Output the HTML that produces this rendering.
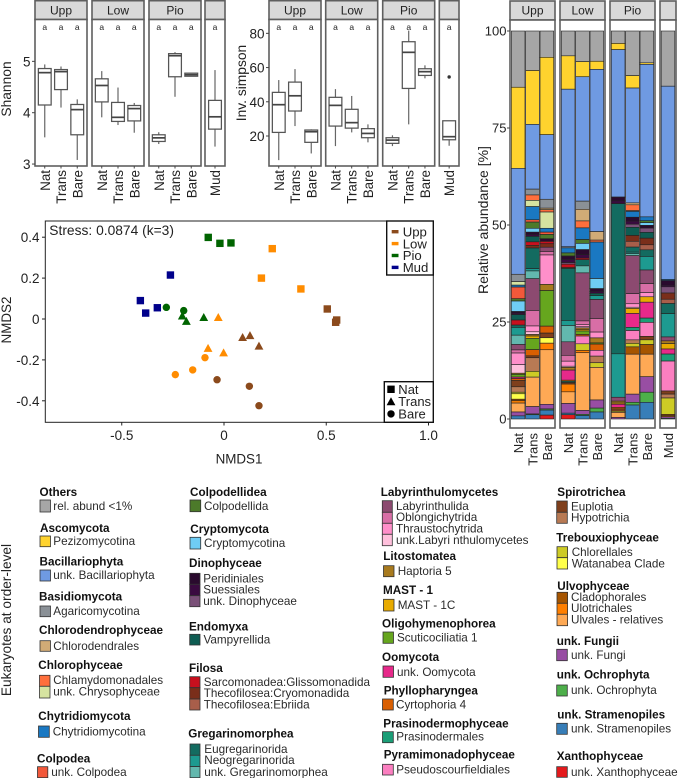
<!DOCTYPE html>
<html lang="en">
<head>
<meta charset="utf-8">
<title>Eukaryote diversity, NMDS and relative abundance</title>
<style>
html,body{margin:0;padding:0;background:#fff;}
svg{display:block;font-family:"Liberation Sans",Arial,sans-serif;}
.h{font-size:11.7px;font-weight:bold;fill:#111;}
.t{font-size:11.7px;fill:#2b2b2b;}
.s{stroke:#333;stroke-width:.8;}
</style>
</head>
<body>
<svg id="figure" xmlns="http://www.w3.org/2000/svg" width="678" height="778" viewBox="0 0 678 778">
<rect width="678" height="778" fill="#fff"/>
<g id="shannon-chart"></g>
<g id="simpson-chart"></g>
<g id="nmds-chart"></g>
<g id="bar-chart"></g>

<g>
<text x="0" y="0" transform="translate(11,620) rotate(-90)" text-anchor="middle" font-size="13.7" fill="#222">Eukaryotes at order-level</text>

<g><text class="h" x="39.5" y="496">Others</text>
<rect class="s" x="40" y="500" width="10.5" height="12" fill="#a6a6a6"/><text class="t" x="53.3" y="510">rel. abund &lt;1%</text></g>

<g><text class="h" x="40" y="532">Ascomycota</text>
<rect class="s" x="40" y="536" width="10.5" height="10.7" fill="#ffd32e"/><text class="t" x="53.3" y="545">Pezizomycotina</text></g>

<g><text class="h" x="39.5" y="565.5">Bacillariophyta</text>
<rect class="s" x="40" y="570" width="10.5" height="11" fill="#6f9ae2"/><text class="t" x="53.3" y="579">unk. Bacillariophyta</text></g>

<g><text class="h" x="39" y="600.5">Basidiomycota</text>
<rect class="s" x="40" y="606" width="10.5" height="10.7" fill="#8a9096"/><text class="t" x="53.3" y="615">Agaricomycotina</text></g>

<g><text class="h" x="39" y="634">Chlorodendrophyceae</text>
<rect class="s" x="40" y="640.7" width="10.5" height="10.6" fill="#d1ab76"/><text class="t" x="53.3" y="650">Chlorodendrales</text></g>

<g><text class="h" x="38.3" y="669">Chlorophyceae</text>
<rect class="s" x="39.5" y="675.3" width="10.5" height="11" fill="#ff6f3c"/><text class="t" x="53.3" y="684">Chlamydomonadales</text>
<rect class="s" x="39.5" y="686.3" width="10.5" height="11.7" fill="#d6e3a0"/><text class="t" x="53.3" y="695.7">unk. Chrysophyceae</text></g>

<g><text class="h" x="38.3" y="720">Chytridiomycota</text>
<rect class="s" x="38.5" y="726" width="10.8" height="11.3" fill="#1a78c2"/><text class="t" x="52.7" y="735.3">Chytridiomycotina</text></g>

<g><text class="h" x="37" y="762.5">Colpodea</text>
<rect class="s" x="37.5" y="766.7" width="10.3" height="11" fill="#f2583a"/><text class="t" x="51.3" y="776">unk. Colpodea</text></g>

<g><text class="h" x="190" y="496">Colpodellidea</text>
<rect class="s" x="190" y="500" width="10.7" height="11.7" fill="#4c7a2a"/><text class="t" x="204" y="510">Colpodellida</text></g>

<g><text class="h" x="190.3" y="533">Cryptomycota</text>
<rect class="s" x="190" y="537.3" width="10.7" height="11.7" fill="#6fcdf5"/><text class="t" x="204" y="547">Cryptomycotina</text></g>

<g><text class="h" x="189" y="567">Dinophyceae</text>
<rect class="s" x="189.7" y="573.3" width="10.3" height="11" fill="#2a0a2e"/><text class="t" x="203.3" y="582.5">Peridiniales</text>
<rect class="s" x="189.7" y="584.3" width="10.3" height="11.4" fill="#3a0a40"/><text class="t" x="203.3" y="593.5">Suessiales</text>
<rect class="s" x="189.7" y="595.7" width="10.3" height="11" fill="#7a5078"/><text class="t" x="203.3" y="605">unk. Dinophyceae</text></g>

<g><text class="h" x="189" y="630.5">Endomyxa</text>
<rect class="s" x="189.7" y="634.3" width="10.3" height="10.7" fill="#0e5c52"/><text class="t" x="203.5" y="643.5">Vampyrellida</text></g>

<g><text class="h" x="189" y="672">Filosa</text>
<rect class="s" x="189.7" y="676.7" width="10.3" height="11" fill="#c8101e"/><text class="t" x="203.7" y="686">Sarcomonadea:Glissomonadida</text>
<rect class="s" x="189.7" y="687.7" width="10.3" height="11.3" fill="#7a2e1a"/><text class="t" x="203.7" y="697">Thecofilosea:Cryomonadida</text>
<rect class="s" x="189.7" y="699" width="10.3" height="11" fill="#a85e4a"/><text class="t" x="203.7" y="708.5">Thecofilosea:Ebriida</text></g>

<g><text class="h" x="188.3" y="737.5">Gregarinomorphea</text>
<rect class="s" x="190" y="744" width="10" height="11.3" fill="#136b60"/><text class="t" x="204.3" y="753">Eugregarinorida</text>
<rect class="s" x="190" y="755.3" width="10" height="11.3" fill="#1d9a90"/><text class="t" x="204.3" y="764">Neogregarinorida</text>
<rect class="s" x="190" y="766.6" width="10" height="11.1" fill="#62b8ae"/><text class="t" x="204.3" y="776">unk. Gregarinomorphea</text></g>

<g><text class="h" x="380.7" y="496">Labyrinthulomycetes</text>
<rect class="s" x="382.3" y="500.7" width="10" height="11.6" fill="#8c4a70"/><text class="t" x="396" y="510">Labyrinthulida</text>
<rect class="s" x="382.3" y="512.3" width="10" height="11" fill="#d86ea6"/><text class="t" x="396" y="521">Oblongichytrida</text>
<rect class="s" x="382.3" y="523.3" width="10" height="11" fill="#ff8fca"/><text class="t" x="396" y="532.3">Thraustochytrida</text>
<rect class="s" x="382.3" y="534.3" width="10" height="11.4" fill="#ffc0dc"/><text class="t" x="396" y="544">unk.Labyri nthulomycetes</text></g>

<g><text class="h" x="383.3" y="560">Litostomatea</text>
<rect class="s" x="383.5" y="565.7" width="10.5" height="11" fill="#a87a1e"/><text class="t" x="397.7" y="575">Haptoria 5</text></g>

<g><text class="h" x="383" y="594">MAST - 1</text>
<rect class="s" x="383.5" y="599.3" width="10.5" height="11.7" fill="#e8ab00"/><text class="t" x="397.7" y="609">MAST - 1C</text></g>

<g><text class="h" x="382" y="627.5">Oligohymenophorea</text>
<rect class="s" x="383" y="632" width="10.5" height="11.3" fill="#66a61e"/><text class="t" x="397" y="641.5">Scuticociliatia 1</text></g>

<g><text class="h" x="382" y="661">Oomycota</text>
<rect class="s" x="383" y="666" width="10.5" height="11.3" fill="#e7298a"/><text class="t" x="397" y="676">unk. Oomycota</text></g>

<g><text class="h" x="383.7" y="694.5">Phyllopharyngea</text>
<rect class="s" x="382.5" y="699" width="10.8" height="11" fill="#d95f02"/><text class="t" x="396" y="708.5">Cyrtophoria 4</text></g>

<g><text class="h" x="383.3" y="727.5">Prasinodermophyceae</text>
<rect class="s" x="382.5" y="731.7" width="10.8" height="11" fill="#1b9e77"/><text class="t" x="396.3" y="740.5">Prasinodermales</text></g>

<g><text class="h" x="383.7" y="758.5">Pyramimonadophyceae</text>
<rect class="s" x="382.5" y="764.3" width="10.8" height="10.7" fill="#fb7fc0"/><text class="t" x="396.3" y="773.5">Pseudoscourfieldiales</text></g>

<g><text class="h" x="557.3" y="496">Spirotrichea</text>
<rect class="s" x="556.7" y="501" width="10.6" height="11.3" fill="#7f3f1c"/><text class="t" x="571" y="510.3">Euplotia</text>
<rect class="s" x="556.7" y="512.3" width="10.6" height="11" fill="#b87a54"/><text class="t" x="571" y="521.3">Hypotrichia</text></g>

<g><text class="h" x="556.3" y="541.5">Trebouxiophyceae</text>
<rect class="s" x="557" y="546.7" width="10.6" height="11" fill="#cdcb25"/><text class="t" x="571.7" y="556">Chlorellales</text>
<rect class="s" x="557" y="557.7" width="10.6" height="11.3" fill="#ffff4a"/><text class="t" x="571.7" y="567.3">Watanabea Clade</text></g>

<g><text class="h" x="557.3" y="590">Ulvophyceae</text>
<rect class="s" x="557" y="592.3" width="10.6" height="11" fill="#a65500"/><text class="t" x="571" y="601">Cladophorales</text>
<rect class="s" x="557" y="603.3" width="10.6" height="11" fill="#ff7f00"/><text class="t" x="571" y="612">Ulotrichales</text>
<rect class="s" x="557" y="614.3" width="10.6" height="11.4" fill="#fea955"/><text class="t" x="571" y="623.3">Ulvales - relatives</text></g>

<g><text class="h" x="556.7" y="645">unk. Fungii</text>
<rect class="s" x="556.7" y="649.3" width="10.6" height="11.4" fill="#984ea3"/><text class="t" x="571" y="659">unk. Fungi</text></g>

<g><text class="h" x="556.7" y="678.5">unk. Ochrophyta</text>
<rect class="s" x="556.7" y="685" width="10.6" height="11" fill="#4daf4a"/><text class="t" x="571" y="694">unk. Ochrophyta</text></g>

<g><text class="h" x="557.3" y="718.5">unk. Stramenopiles</text>
<rect class="s" x="556.7" y="723.3" width="10.6" height="11" fill="#377eb8"/><text class="t" x="571" y="732.3">unk. Stramenopiles</text></g>

<g><text class="h" x="556.7" y="760">Xanthophyceae</text>
<rect class="s" x="556.7" y="766.7" width="10.6" height="10.6" fill="#e41a1c"/><text class="t" x="571" y="776">unk. Xanthophyceae</text></g>
</g>
</svg>

<script>
// ---------- shared categories ----------
const facetLabels = ['Upp', 'Low', 'Pio', ''];
const facetCategories = [['Nat', 'Trans', 'Bare'], ['Nat', 'Trans', 'Bare'], ['Nat', 'Trans', 'Bare'], ['Mud']];
const significanceLetters = ['a', 'a', 'a', 'a', 'a', 'a', 'a', 'a', 'a', 'a'];

// ---------- Shannon box statistics (Upp N/T/B, Low N/T/B, Pio N/T/B, Mud) ----------
const shannonTicks = [3, 4, 5];
const shannonHigh   = [4.94, 4.90, 4.26, 4.81, 4.49, 4.19, 3.62, 5.18, 4.77, 4.83];
const shannonQ3     = [4.86, 4.84, 4.16, 4.66, 4.20, 4.14, 3.57, 5.15, 4.77, 4.24];
const shannonMedian = [4.78, 4.80, 4.06, 4.53, 3.91, 4.08, 3.51, 5.11, 4.74, 3.92];
const shannonQ1     = [4.15, 4.45, 3.57, 4.21, 3.83, 3.84, 3.44, 4.70, 4.71, 3.68];
const shannonLow    = [3.52, 4.10, 3.08, 3.91, 3.76, 3.61, 3.39, 4.31, 4.71, 3.34];

// ---------- Inverse Simpson box statistics ----------
const simpsonTicks = [20, 40, 60, 80];
const simpsonHigh   = [52.7, 59.1, 23.9, 47.4, 43.4, 26.8, 20.4, 81.6, 61.3, 28.9];
const simpsonQ3     = [45.5, 51.5, 23.5, 42.6, 35.6, 24.3, 19.0, 75.1, 59.3, 28.9];
const simpsonMedian = [38.3, 43.5, 22.5, 37.9, 27.8, 21.5, 17.6, 68.9, 57.6, 19.6];
const simpsonQ1     = [22.1, 34.6, 16.3, 25.8, 24.6, 19.0, 15.7, 47.8, 55.4, 17.8];
const simpsonLow    = [5.9, 25.8, 9.8, 14.1, 22.1, 16.3, 14.1, 26.8, 53.7, 14.3];
const simpsonOutliers = [null, null, null, null, null, null, null, null, null, 54.5];

// ---------- NMDS ordination ----------
const nmdsXTicks = [-0.5, 0, 0.5, 1.0];
const nmdsYTicks = [-0.4, -0.2, 0, 0.2, 0.4];
const nmdsX = [0.505, 0.551, 0.546, 0.236, 0.183, 0.376, -0.077, -0.020, 0.034, -0.262, -0.409, -0.383, -0.326,
               0.091, 0.127, 0.171, -0.028, -0.078, -0.002, -0.204, -0.184, -0.099,
               -0.034, 0.124, 0.171, -0.093, -0.153, -0.238, -0.282, -0.197];
const nmdsY = [0.049, -0.005, -0.016, 0.344, 0.200, 0.147, 0.399, 0.370, 0.372, 0.215, 0.090, 0.029, 0.055,
               -0.090, -0.081, -0.132, 0.008, -0.143, -0.165, 0.015, -0.011, 0.008,
               -0.297, -0.329, -0.424, -0.189, -0.249, -0.272, 0.057, 0.041];
const nmdsSite = ['Upp','Upp','Upp','Low','Low','Low','Pio','Pio','Pio','Mud','Mud','Mud','Mud',
                  'Upp','Upp','Upp','Low','Low','Low','Pio','Pio','Pio',
                  'Upp','Upp','Upp','Low','Low','Low','Pio','Pio'];
const nmdsTreatment = ['Nat','Nat','Nat','Nat','Nat','Nat','Nat','Nat','Nat','Nat','Nat','Nat','Nat',
                       'Trans','Trans','Trans','Trans','Trans','Trans','Trans','Trans','Trans',
                       'Bare','Bare','Bare','Bare','Bare','Bare','Bare','Bare'];
const siteLegend = ['Upp', 'Low', 'Pio', 'Mud'];
const treatmentLegend = ['Nat', 'Trans', 'Bare'];
const siteColors = {Upp: '#8b4a1c', Low: '#ff8c00', Pio: '#006400', Mud: '#00008b'};

// ---------- Stacked relative abundance ----------
const abundanceTicks = [0, 25, 50, 75, 100];
const taxa = ['Others','Pezizomycotina','Bacillariophyta','Agaricomycotina','Chlorodendrales','Chlamydomonadales','Chrysophyceae','Chytridiomycotina','Colpodea','Colpodellida',
  'Cryptomycotina','Peridiniales','Suessiales','Dinophyceae','Vampyrellida','Glissomonadida','Cryomonadida','Ebriida','Eugregarinorida','Neogregarinorida',
  'Gregarinomorphea','Labyrinthulida','Oblongichytrida','Thraustochytrida','Labyrinthulomycetes','Haptoria','MAST-1C','Scuticociliatia','Oomycota','Cyrtophoria',
  'Prasinodermales','Pseudoscourfieldiales','Euplotia','Hypotrichia','Chlorellales','Watanabea','Cladophorales','Ulotrichales','Ulvales','Fungi',
  'Ochrophyta','Stramenopiles','Xanthophyceae'];
const taxaColors = ['#a6a6a6','#ffd32e','#6f9ae2','#8a9096','#d1ab76','#ff6f3c','#d6e3a0','#1a78c2','#f2583a','#4c7a2a',
  '#6fcdf5','#2a0a2e','#3a0a40','#7a5078','#0e5c52','#c8101e','#7a2e1a','#a85e4a','#136b60','#1d9a90',
  '#62b8ae','#8c4a70','#d86ea6','#ff8fca','#ffc0dc','#a87a1e','#e8ab00','#66a61e','#e7298a','#d95f02',
  '#1b9e77','#fb7fc0','#7f3f1c','#b87a54','#cdcb25','#ffff4a','#a65500','#ff7f00','#fea955','#984ea3',
  '#4daf4a','#377eb8','#e41a1c'];
const uppNat   = [14.5,20.9,27.3,1.9,0,0,.9,.5,3,.6, 2.7,.4,.4,0,1.4,1.3,0,0,.6,2, 2.4,1.4,.8,3,2.2,.3,0,.7,.4,.5, 0,0,1.6,1.4,.4,1.4,.4,.6,2.3,1, 0,.8,0];
const uppTrans = [10.2,13.9,16.7,1.5,0,1.4,1.6,3.4,.6,1.6, 1,.6,.5,0,1.4,.9,.7,0,5.3,.6, 2,8.2,4,1.5,.7,.4,.6,2.9,0,1.6, 0,0,.5,3.5,1.5,0,0,0,7.6,1.9, .2,1.1,0];
const uppBare  = [6.8,20,16.7,2.3,.4,.6,4.2,1,.6,1.1, 0,.7,0,0,0,.6,.9,0,0,0, 0,1.1,.9,7.6,0,1.6,0,9.2,0,1.8, 0,0,1.2,0,0,1.4,0,1.7,14.1,1.2, .3,1.3,1];
const lowNat   = [6.4,8.6,40.6,.3,0,0,0,1.3,0,.8, 0,.9,.8,.4,0,.8,.3,0,13.4,1.3, 4.2,3.5,1.5,1.3,.3,.7,0,0,2.6,.3, .3,0,.4,0,0,0,0,2,3,2.5, 0,.4,1.1];
const lowTrans = [7.9,3.9,32.1,2.1,3,1.8,0,3,0,1, 1.6,1.3,.9,0,0,.4,0,0,1.6,0, 1.8,12.4,.9,.6,.3,.4,.4,.9,0,.4, 0,2,0,0,1.7,0,0,.6,14.9,1, .3,.9,0];
const lowBare  = [7.8,2.1,41.8,0,2.2,.5,0,9.4,0,0, 2.6,.7,.5,0,.6,0,0,0,0,1, 0,4.9,3.5,1.5,0,1.3,0,.3,0,1.6, 0,1.5,0,1.7,1.2,0,0,0,8.4,2.1, 1,1.8,0];
const pioNat   = [3.2,1.6,38,0,0,0,0,0,0,0, 0,1,.7,0,0,0,0,0,38.7,11.2, 0,1,0,0,0,.5,.3,0,.8,.4, 0,0,.6,0,.3,0,0,0,1.3,.4, 0,0,0];
const pioTrans = [11.5,3.2,29.6,0,.5,1.5,.2,1.5,0,0, 0,1,.8,.8,2.1,0,1.5,1.5,1.3,.4, .5,9.8,2.6,.9,.3,0,1.3,0,3.6,0, .8,2.4,0,.9,.9,0,1.9,0,10.3,2.1, .7,3.6,0];
const pioBare  = [8.2,.4,39.3,0,0,0,0,1,0,.5, .7,.7,0,1.1,1.5,0,1.7,1.3,1.7,3.5, 0,3.5,2.3,1.1,0,0,1.4,0,4.1,0, 1.1,3.6,.9,0,1.2,0,2.5,0,5.8,4, 2.6,4.3,0];
const mudAll   = [14.2,0,49.7,0,0,0,0,.3,0,0, 0,1.2,.4,1.6,0,0,1.6,1.1,2.6,6, 0,1,0,0,0,.7,1.4,0,1.3,0, 1.8,7.7,.8,1,4.2,0,.3,.3,0,.4, 0,.2,0];
const facetSamples = [[uppNat, uppTrans, uppBare], [lowNat, lowTrans, lowBare], [pioNat, pioTrans, pioBare], [mudAll]];

// ---------- helpers ----------
const NS = 'http://www.w3.org/2000/svg';
function mk(tag, parent, attrs) {
  const el = document.createElementNS(NS, tag);
  for (const k in attrs) el.setAttribute(k, attrs[k]);
  parent.appendChild(el);
  return el;
}
function label(parent, str, x, y, size, anchor, rot, extra) {
  const el = mk('text', parent, Object.assign({
    x: 0, y: 0, 'font-size': size, 'text-anchor': anchor, fill: '#222',
    transform: 'translate(' + x + ',' + y + ')' + (rot ? ' rotate(' + rot + ')' : '')
  }, extra || {}));
  el.textContent = str;
  return el;
}
const BORDER = '#5f5f5f';

// ---------- facet frame shared by box plots ----------
function drawFacetFrame(root, lefts, widths, top, stripBottom, bottom) {
  lefts.forEach(function (left, f) {
    const strip = mk('rect', root, {x: left, y: top, width: widths[f], height: stripBottom - top, fill: '#d9d9d9', stroke: BORDER, 'stroke-width': 1.6});
    
    
    const panel = mk('rect', root, {x: left, y: stripBottom, width: widths[f], height: bottom - stripBottom, fill: '#fff', stroke: BORDER, 'stroke-width': 1.6});
    
    
    const stripText = label(root, facetLabels[f], left + widths[f] / 2, 14.5, 12, 'middle');
    
    
  });
}

// ---------- box plot ----------
function drawBoxes(root, cfg) {
  const y = function (v) { return cfg.y0 + (v - cfg.v0) * cfg.pxPerUnit; };
  drawFacetFrame(root, cfg.lefts, cfg.widths, 0.7, 19.5, 166);
  cfg.ticks.forEach(function (t) {
    const tick = mk('line', root, {x1: cfg.lefts[0] - 3, x2: cfg.lefts[0], y1: y(t), y2: y(t), stroke: '#444', 'stroke-width': 1});
    
    
    const tl = label(root, String(t), cfg.lefts[0] - 4.5, y(t) + 5, 13.5, 'end');
    
    
  });
  const title = label(root, cfg.title, cfg.titleX, cfg.titleY, 13.8, 'middle', -90);
  
  
  let idx = 0;
  facetCategories.forEach(function (cats, f) {
    const step = cats.length > 1 ? cfg.widths[f] / 3.2 : 0;
    cats.forEach(function (cat, c) {
      const cx = cfg.lefts[f] + cfg.widths[f] / 2 + (c - (cats.length - 1) / 2) * step;
      const hw = 6.4;
      const letter = label(root, significanceLetters[idx], cx, 30, 8.5, 'middle');
      
      
      const whisker = mk('line', root, {x1: cx, x2: cx, y1: y(cfg.high[idx]), y2: y(cfg.low[idx]), stroke: '#666', 'stroke-width': 1.2});
      
      
      const box = mk('rect', root, {x: cx - hw, y: y(cfg.q3[idx]), width: hw * 2, height: y(cfg.q1[idx]) - y(cfg.q3[idx]), fill: '#fff', stroke: '#555', 'stroke-width': 1.25});
      
      
      const med = mk('line', root, {x1: cx - hw, x2: cx + hw, y1: y(cfg.median[idx]), y2: y(cfg.median[idx]), stroke: '#444', 'stroke-width': 1.7});
      
      
      if (cfg.outliers && cfg.outliers[idx] !== null) {
        const o = mk('circle', root, {cx: cx, cy: y(cfg.outliers[idx]), r: 1.7, fill: '#333'});
        
        
      }
      const xtick = mk('line', root, {x1: cx, x2: cx, y1: 166, y2: 168.5, stroke: '#444', 'stroke-width': 1});
      
      
      const xl = label(root, cat, cx + 5, 170, 13.4, 'end', -90);
      
      
      idx++;
    });
  });
}
drawBoxes(document.getElementById('shannon-chart'), {
  lefts: [35, 92, 149, 205], widths: [52, 52, 52, 20], y0: 112.7, v0: 4, pxPerUnit: -51.35,
  ticks: shannonTicks, title: 'Shannon', titleX: 11, titleY: 89,
  high: shannonHigh, q3: shannonQ3, median: shannonMedian, q1: shannonQ1, low: shannonLow
});
drawBoxes(document.getElementById('simpson-chart'), {
  lefts: [269, 325.7, 382.7, 439.3], widths: [52, 52, 52, 19.7], y0: 136, v0: 20, pxPerUnit: -1.711,
  ticks: simpsonTicks, title: 'Inv. simpson', titleX: 246, titleY: 83,
  high: simpsonHigh, q3: simpsonQ3, median: simpsonMedian, q1: simpsonQ1, low: simpsonLow, outliers: simpsonOutliers
});

// ---------- NMDS scatter ----------
(function () {
  const root = document.getElementById('nmds-chart');
  const xS = function (v) { return 224 + v * 204.5; };
  const yS = function (v) { return 319 - v * 204.5; };
  const frame = mk('rect', root, {x: 45.3, y: 221, width: 388, height: 201.3, fill: '#fff', stroke: '#222', 'stroke-width': 1});
  
  
  nmdsXTicks.forEach(function (t) {
    const tick = mk('line', root, {x1: xS(t), x2: xS(t), y1: 422.3, y2: 425.5, stroke: '#222', 'stroke-width': 1});
    
    
    const tl = label(root, t === 0 ? '0' : t.toFixed(1), xS(t), 440, 13.5, 'middle');
    
    
  });
  nmdsYTicks.forEach(function (t) {
    const tick = mk('line', root, {x1: 42, x2: 45.3, y1: yS(t), y2: yS(t), stroke: '#222', 'stroke-width': 1});
    
    
    const tl = label(root, t === 0 ? '0' : t.toFixed(1), 39.5, yS(t) + 5, 13.5, 'end');
    
    
  });
  const xT = label(root, 'NMDS1', 239, 463.3, 13.4, 'middle');
  
  
  const yT = label(root, 'NMDS2', 11, 320, 13.4, 'middle', -90);
  
  
  const stress = label(root, 'Stress: 0.0874 (k=3)', 49.3, 235, 13.8, 'start');
  
  

  function marker(parent, shape, cx, cy, color) {
    if (shape === 'Nat') return mk('rect', parent, {x: cx - 3.7, y: cy - 3.7, width: 7.4, height: 7.4, fill: color});
    if (shape === 'Trans') return mk('polygon', parent, {points: (cx - 4.4) + ',' + (cy + 3.6) + ' ' + (cx + 4.4) + ',' + (cy + 3.6) + ' ' + cx + ',' + (cy - 4.4), fill: color});
    return mk('circle', parent, {cx: cx, cy: cy, r: 3.7, fill: color});
  }
  // draw circles first, then triangles, then squares (reference stacking)
  ['Bare', 'Trans', 'Nat'].forEach(function (kind) {
    nmdsX.forEach(function (vx, i) {
      if (nmdsTreatment[i] !== kind) return;
      const pt = marker(root, kind, xS(vx), yS(nmdsY[i]), siteColors[nmdsSite[i]]);
      
      
    });
  });

  const box1 = mk('rect', root, {x: 386.7, y: 221, width: 46.6, height: 54, fill: '#fff', stroke: '#111', 'stroke-width': 1.4});
  
  
  siteLegend.forEach(function (name, i) {
    const cy = 231.7 + i * 11.9;
    const key = mk('rect', root, {x: 391.7, y: cy - 1.7, width: 6.8, height: 3.4, fill: siteColors[name]});
    
    
    const tx = label(root, name, 402.7, cy + 4.7, 13.2, 'start');
    
    
  });
  const box2 = mk('rect', root, {x: 384.3, y: 381.7, width: 49, height: 40.6, fill: '#fff', stroke: '#111', 'stroke-width': 1.4});
  
  
  treatmentLegend.forEach(function (name, i) {
    const cy = 389.3 + i * 12.3;
    const key = marker(root, name, 391, cy, '#000');
    
    
    const tx = label(root, name, 398.3, cy + 4.6, 13, 'start');
    
    
  });
})();

// ---------- stacked bars ----------
(function () {
  const root = document.getElementById('bar-chart');
  const lefts = [510, 560, 610, 660];
  const widths = [45, 45, 45, 16];
  const top = 1;
  const stripBottom = 20;
  const bottom = 428;
  const y = function (pct) { return 419 - pct * 3.88; };
  const band = 14.35;
  const barW = 13.6;
  drawFacetFrame(root, lefts, widths, top, stripBottom, bottom);
  abundanceTicks.forEach(function (t) {
    const tick = mk('line', root, {x1: 507, x2: 510, y1: y(t), y2: y(t), stroke: '#444', 'stroke-width': 1});
    
    
    const tl = label(root, String(t), 506.5, y(t) + 4.7, 13, 'end');
    
    
  });
  const title = label(root, 'Relative abundance [%]', 488, 220, 14, 'middle', -90);
  
  
  facetSamples.forEach(function (samples, f) {
    samples.forEach(function (values, s) {
      const cx = lefts[f] + widths[f] / 2 + (s - (samples.length - 1) / 2) * band;
      const total = values.reduce(function (a, b) { return a + b; }, 0);
      let remaining = 100;
      values.forEach(function (v, t) {
        if (v <= 0) return;
        const h = v / total * 100;
        const seg = mk('rect', root, {x: cx - barW / 2, y: y(remaining), width: barW, height: h * 3.88, fill: taxaColors[t], stroke: '#222', 'stroke-width': 0.6});
        
        
        const tip = mk('title', seg, {});
        tip.textContent = taxa[t];
        remaining -= h;
      });
      const xl = label(root, facetCategories[f][s], cx + 5, 433, 13, 'end', -90);
      
      
    });
  });
})();
</script>
</body>
</html>
